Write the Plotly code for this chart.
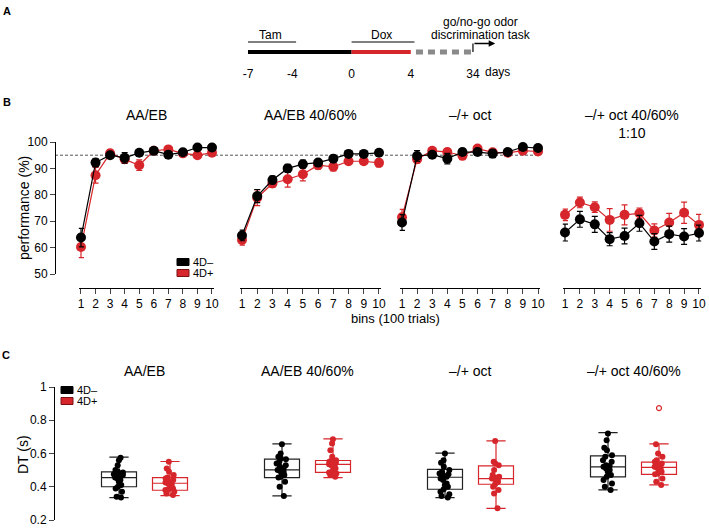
import plotly.graph_objects as go

W, H = 709, 529
BLACK = "#000000"
RED = "#d7262b"
FONT = "Arial, Liberation Sans, sans-serif"

# ---------------- data ----------------
# panel A: treatment timeline (days)
tam_period = [-7, -4]
dox_period = [0, 4]
pre_period = [-7, 0]
task_day_pos = 8.2          # schematic position of day 34 (axis break)
timeline_tickvals = [-7, -4, 0, 4, task_day_pos]
timeline_ticktext = ["-7", "-4", "0", "4", "34"]

# panel B: performance per bin
bins = list(range(1, 11))
titles_b = ["AA/EB", "AA/EB 40/60%", "–/+ oct", "–/+ oct 40/60%<br>1:10"]

aaeb_neg = [63.8, 92.2, 95.0, 94.0, 95.9, 96.7, 95.2, 96.1, 97.9, 97.9]
aaeb_pos = [60.2, 87.4, 95.7, 93.5, 91.2, 96.7, 97.2, 95.7, 95.0, 95.9]
aaeb40_neg = [64.6, 79.5, 85.6, 90.0, 91.6, 92.2, 93.7, 95.5, 95.5, 95.9]
aaeb40_pos = [62.9, 78.9, 84.3, 85.9, 87.8, 91.2, 90.6, 92.7, 92.7, 92.1]
oct_neg = [69.5, 94.7, 95.2, 93.7, 96.2, 96.2, 95.6, 96.2, 98.1, 97.7]
oct_pos = [71.5, 93.5, 96.7, 96.2, 94.8, 97.5, 96.1, 95.9, 96.7, 96.4]
oct40_neg = [65.7, 70.7, 68.8, 63.2, 64.4, 69.2, 62.3, 65.1, 64.2, 65.5]
oct40_pos = [72.4, 77.1, 75.3, 70.5, 72.4, 73.0, 66.5, 69.5, 73.2, 68.6]

aaeb_neg_err = [3.5, 1.5, 1.0, 2.0, 1.0, 1.0, 1.2, 1.0, 1.0, 0.8]
aaeb_pos_err = [4.0, 3.0, 1.2, 1.5, 2.0, 1.0, 1.0, 1.0, 1.2, 1.0]
aaeb40_neg_err = [2.0, 2.5, 1.5, 1.5, 1.5, 1.0, 1.0, 1.0, 1.0, 1.0]
aaeb40_pos_err = [2.0, 3.0, 1.5, 3.0, 2.5, 1.5, 1.5, 1.2, 1.2, 1.5]
oct_neg_err = [3.0, 2.0, 1.0, 2.0, 1.2, 1.0, 1.5, 1.2, 1.0, 1.0]
oct_pos_err = [3.0, 1.5, 1.0, 1.0, 1.5, 0.8, 1.0, 1.0, 1.0, 1.0]
oct40_neg_err = [3.2, 3.0, 3.0, 2.5, 3.0, 3.0, 3.0, 3.0, 3.0, 3.0]
oct40_pos_err = [2.2, 2.0, 2.0, 4.3, 3.8, 2.0, 2.5, 3.5, 4.0, 4.0]

# panel C: decision time (s)
titles_c = ["AA/EB", "AA/EB 40/60%", "–/+ oct", "–/+ oct 40/60%"]
# box statistics: [low whisker, q1, median, q3, high whisker]
stats_neg = [
    [0.335, 0.400, 0.455, 0.490, 0.578],
    [0.345, 0.455, 0.501, 0.566, 0.658],
    [0.335, 0.385, 0.457, 0.505, 0.602],
    [0.381, 0.459, 0.520, 0.586, 0.725],
]
stats_pos = [
    [0.347, 0.379, 0.421, 0.455, 0.552],
    [0.455, 0.487, 0.534, 0.558, 0.688],
    [0.270, 0.415, 0.449, 0.526, 0.676],
    [0.411, 0.475, 0.516, 0.548, 0.658],
]
dt_aaeb_neg = [0.335, 0.34, 0.37, 0.39, 0.40, 0.41, 0.43, 0.44, 0.45, 0.455, 0.46,
               0.465, 0.47, 0.475, 0.48, 0.485, 0.49, 0.50, 0.53, 0.56, 0.575]
dt_aaeb_pos = [0.35, 0.36, 0.37, 0.38, 0.385, 0.39, 0.40, 0.41, 0.42, 0.425, 0.43,
               0.435, 0.44, 0.45, 0.455, 0.47, 0.49, 0.51, 0.55]
dt_aaeb40_neg = [0.345, 0.40, 0.43, 0.455, 0.46, 0.47, 0.48, 0.49, 0.495, 0.50, 0.51,
                 0.52, 0.53, 0.54, 0.55, 0.565, 0.57, 0.58, 0.60, 0.655]
dt_aaeb40_pos = [0.46, 0.47, 0.48, 0.485, 0.49, 0.51, 0.52, 0.53, 0.53, 0.535, 0.54,
                 0.54, 0.545, 0.55, 0.555, 0.56, 0.58, 0.62, 0.66, 0.685]
dt_oct_neg = [0.335, 0.345, 0.355, 0.37, 0.385, 0.40, 0.41, 0.42, 0.44, 0.45, 0.46,
              0.47, 0.475, 0.48, 0.49, 0.50, 0.52, 0.545, 0.56, 0.60]
dt_oct_pos = [0.27, 0.36, 0.38, 0.40, 0.415, 0.43, 0.44, 0.445, 0.45, 0.45, 0.455,
              0.455, 0.46, 0.47, 0.50, 0.53, 0.54, 0.55, 0.675]
dt_oct40_neg = [0.38, 0.40, 0.42, 0.44, 0.46, 0.47, 0.49, 0.50, 0.51, 0.52, 0.525,
                0.53, 0.55, 0.56, 0.58, 0.59, 0.62, 0.635, 0.68, 0.72]
dt_oct40_pos = [0.41, 0.43, 0.45, 0.475, 0.48, 0.49, 0.50, 0.51, 0.515, 0.52, 0.525,
                0.53, 0.54, 0.55, 0.56, 0.58, 0.60, 0.655]
dt_oct40_pos_outlier = [0.873]

neg_b = [(aaeb_neg, aaeb_neg_err), (aaeb40_neg, aaeb40_neg_err), (oct_neg, oct_neg_err), (oct40_neg, oct40_neg_err)]
pos_b = [(aaeb_pos, aaeb_pos_err), (aaeb40_pos, aaeb40_pos_err), (oct_pos, oct_pos_err), (oct40_pos, oct40_pos_err)]
dots_neg = [dt_aaeb_neg, dt_aaeb40_neg, dt_oct_neg, dt_oct40_neg]
dots_pos = [dt_aaeb_pos, dt_aaeb40_pos, dt_oct_pos, dt_oct40_pos]


# ---------------- helpers (pixel -> paper) ----------------
def px(x):
    return x / W


def py(y):
    return 1 - y / H


fig = go.Figure()
annotations = []
shapes = []


def text(s, x, y, size=12, xanchor="center", **kw):
    annotations.append(dict(text=s, x=px(x), y=py(y), xref="paper", yref="paper",
                            xanchor=xanchor, yanchor="middle", showarrow=False,
                            font=dict(size=size, color="black", family=FONT), **kw))


# ---------------- panel A ----------------
fig.add_trace(go.Scatter(x=pre_period, y=[0, 0], mode="lines", line=dict(color=BLACK, width=4),
                         xaxis="x", yaxis="y", showlegend=False, hoverinfo="skip"))
fig.add_trace(go.Scatter(x=dox_period, y=[0, 0], mode="lines", line=dict(color=RED, width=4),
                         xaxis="x", yaxis="y", showlegend=False, hoverinfo="skip"))
fig.add_trace(go.Scatter(x=[dox_period[1] + 0.35, task_day_pos], y=[0, 0], mode="lines",
                         line=dict(color="#8a8a8a", width=5, dash="7px,5px"),
                         xaxis="x", yaxis="y", showlegend=False, hoverinfo="skip"))
for period in (tam_period, dox_period):
    fig.add_trace(go.Scatter(x=[period[0], period[1] + 0.25], y=[1, 1], mode="lines",
                             line=dict(color=BLACK, width=1.2),
                             xaxis="x", yaxis="y", showlegend=False, hoverinfo="skip"))
fig.add_trace(go.Scatter(x=[task_day_pos, task_day_pos], y=[0, 0.85], mode="lines",
                         line=dict(color=BLACK, width=1.2),
                         xaxis="x", yaxis="y", showlegend=False, hoverinfo="skip"))
annotations.append(dict(x=task_day_pos + 1.5, y=0.85, ax=task_day_pos, ay=0.85, xref="x", yref="y",
                        axref="x", ayref="y", text="", showarrow=True, arrowhead=2,
                        arrowsize=1, arrowwidth=1.3, arrowcolor=BLACK))
for lbl, period in (("Tam", tam_period), ("Dox", dox_period)):
    annotations.append(dict(text=lbl, x=sum(period) / 2, y=1.7, xref="x", yref="y", showarrow=False,
                            xanchor="center", yanchor="middle",
                            font=dict(size=12, color="black", family=FONT)))
text("go/no-go odor", 481, 22)
text("discrimination task", 481, 35)
text("days", 497, 72)
text("<b>A</b>", 7, 11, size=11)

# ---------------- panel B ----------------
x1_px = [81, 242, 402, 565]
x10_px = [212, 379, 538, 699]
for k in range(4):
    ax = k + 2
    for (vals, err), color in ((pos_b[k], RED), (neg_b[k], BLACK)):
        fig.add_trace(go.Scatter(
            x=bins, y=vals, mode="lines+markers",
            line=dict(color=color, width=1.2),
            marker=dict(color=color, size=10),
            error_y=dict(type="data", array=err, color=color, thickness=1.2, width=3),
            xaxis=f"x{ax}", yaxis=f"y{ax}", showlegend=False, cliponaxis=False))
    ppu = (x10_px[k] - x1_px[k]) / 9
    fig.layout[f"xaxis{ax}"] = dict(
        domain=[px(x1_px[k] - 0.15 * ppu), px(x10_px[k] + 0.15 * ppu)], range=[0.85, 10.15],
        anchor="free", position=py(288), tickvals=bins, ticks="outside", ticklen=5,
        showline=True, linecolor="black", linewidth=1, showgrid=False, zeroline=False,
        tickfont=dict(size=12, color="black", family=FONT))
    fig.layout[f"yaxis{ax}"] = dict(domain=[py(274), py(142)], range=[50, 100], visible=False)
    cx = (x1_px[k] + x10_px[k]) / 2
    text(titles_b[k], cx, 115 if k < 3 else 124, size=14)

fig.layout["yaxis2"] = dict(
    domain=[py(274), py(142)], range=[50, 100], anchor="free", position=px(55),
    tickvals=[50, 60, 70, 80, 90, 100], ticks="outside", ticklen=5, showline=True,
    linecolor="black", linewidth=1, showgrid=False, zeroline=False,
    tickfont=dict(size=12, color="black", family=FONT))

shapes.append(dict(type="line", xref="paper", yref="y2", x0=px(55), x1=px(538), y0=95, y1=95,
                   line=dict(color="#555555", width=1, dash="3px,2px"), layer="below"))
text("performance (%)", 24, 208, size=14, textangle=-90)
text("bins (100 trials)", 395, 318, size=13)
text("<b>B</b>", 7, 102, size=11)

# legend B
for i, (lbl, color, edge) in enumerate((("4D–", BLACK, BLACK), ("4D+", RED, "#7a1014"))):
    y0 = 262 + 11 * i
    shapes.append(dict(type="rect", xref="paper", yref="paper", x0=px(177), x1=px(189),
                       y0=py(y0 + 3.5), y1=py(y0 - 3.5), fillcolor=color, line=dict(color=edge, width=1)))
    text(lbl, 191, y0, size=11, xanchor="left")

# ---------------- panel C ----------------
group_spacing_px = 163
centre0_px = 144.5
offset = 25.5 / group_spacing_px
box_w = 35 / group_spacing_px
for i in range(4):
    for stats, dots, color, sgn in ((stats_neg[i], dots_neg[i], "#222222", -1),
                                     (stats_pos[i], dots_pos[i], RED, 1)):
        xpos = i + sgn * offset
        lo, q1, med, q3, hi = stats
        fig.add_trace(go.Box(
            x=[xpos], q1=[q1], median=[med], q3=[q3], lowerfence=[lo], upperfence=[hi],
            width=box_w, whiskerwidth=0.55, line=dict(color=color, width=1.2),
            fillcolor="rgba(255,255,255,0)", boxpoints=False,
            xaxis="x6", yaxis="y6", showlegend=False))
        fig.add_trace(go.Box(
            y=dots, x0=xpos, width=box_w, boxpoints="all", jitter=0.35, pointpos=0,
            marker=dict(color=BLACK if sgn < 0 else RED, size=6),
            line=dict(width=0), fillcolor="rgba(0,0,0,0)",
            xaxis="x6", yaxis="y6", showlegend=False))
    text(titles_c[i], centre0_px + i * group_spacing_px, 371, size=14)

fig.add_trace(go.Scatter(x=[3 + offset] * len(dt_oct40_pos_outlier), y=dt_oct40_pos_outlier,
                         mode="markers", marker=dict(symbol="circle-open", color=RED, size=5, line=dict(width=1.2)),
                         xaxis="x6", yaxis="y6", showlegend=False))

fig.layout["xaxis6"] = dict(domain=[px(54), 1], range=[-(centre0_px - 54) / group_spacing_px,
                                                       (W - centre0_px) / group_spacing_px],
                            visible=False, anchor="y6")
fig.layout["yaxis6"] = dict(
    domain=[py(520), py(387)], range=[0.2, 1], anchor="free", position=px(54),
    tickvals=[0.2, 0.4, 0.6, 0.8, 1], ticks="outside", ticklen=5, showline=True,
    linecolor="black", linewidth=1, showgrid=False, zeroline=False,
    tickfont=dict(size=12, color="black", family=FONT))
text("DT (s)", 23, 455, size=14, textangle=-90)
text("<b>C</b>", 6, 355, size=11)

for i, (lbl, color, edge) in enumerate((("4D–", BLACK, BLACK), ("4D+", RED, "#7a1014"))):
    y0 = 390 + 11 * i
    shapes.append(dict(type="rect", xref="paper", yref="paper", x0=px(61), x1=px(73),
                       y0=py(y0 + 3.5), y1=py(y0 - 3.5), fillcolor=color, line=dict(color=edge, width=1)))
    text(lbl, 75, y0, size=11, xanchor="left")

# ---------------- layout ----------------
fig.update_layout(
    width=W, height=H, autosize=False,
    margin=dict(l=0, r=0, t=0, b=0, autoexpand=False),
    paper_bgcolor="white", plot_bgcolor="rgba(0,0,0,0)",
    font=dict(family=FONT, color="black"),
    xaxis=dict(domain=[px(240), px(540)], range=[-7.54, 12.73], tickvals=timeline_tickvals,
               ticktext=timeline_ticktext, showline=False, showgrid=False, zeroline=False,
               ticks="", tickfont=dict(size=12, color="black", family=FONT), anchor="y"),
    yaxis=dict(domain=[py(65), py(15)], range=[-1.3, 3.7], visible=False),
    annotations=annotations,
    shapes=shapes,
    showlegend=False,
)

# the page body has a default 8px margin; remove it so the figure sits at the window origin
fig.write_html("out.html", config={"displayModeBar": False},
               post_script="document.body.style.margin='0';")
